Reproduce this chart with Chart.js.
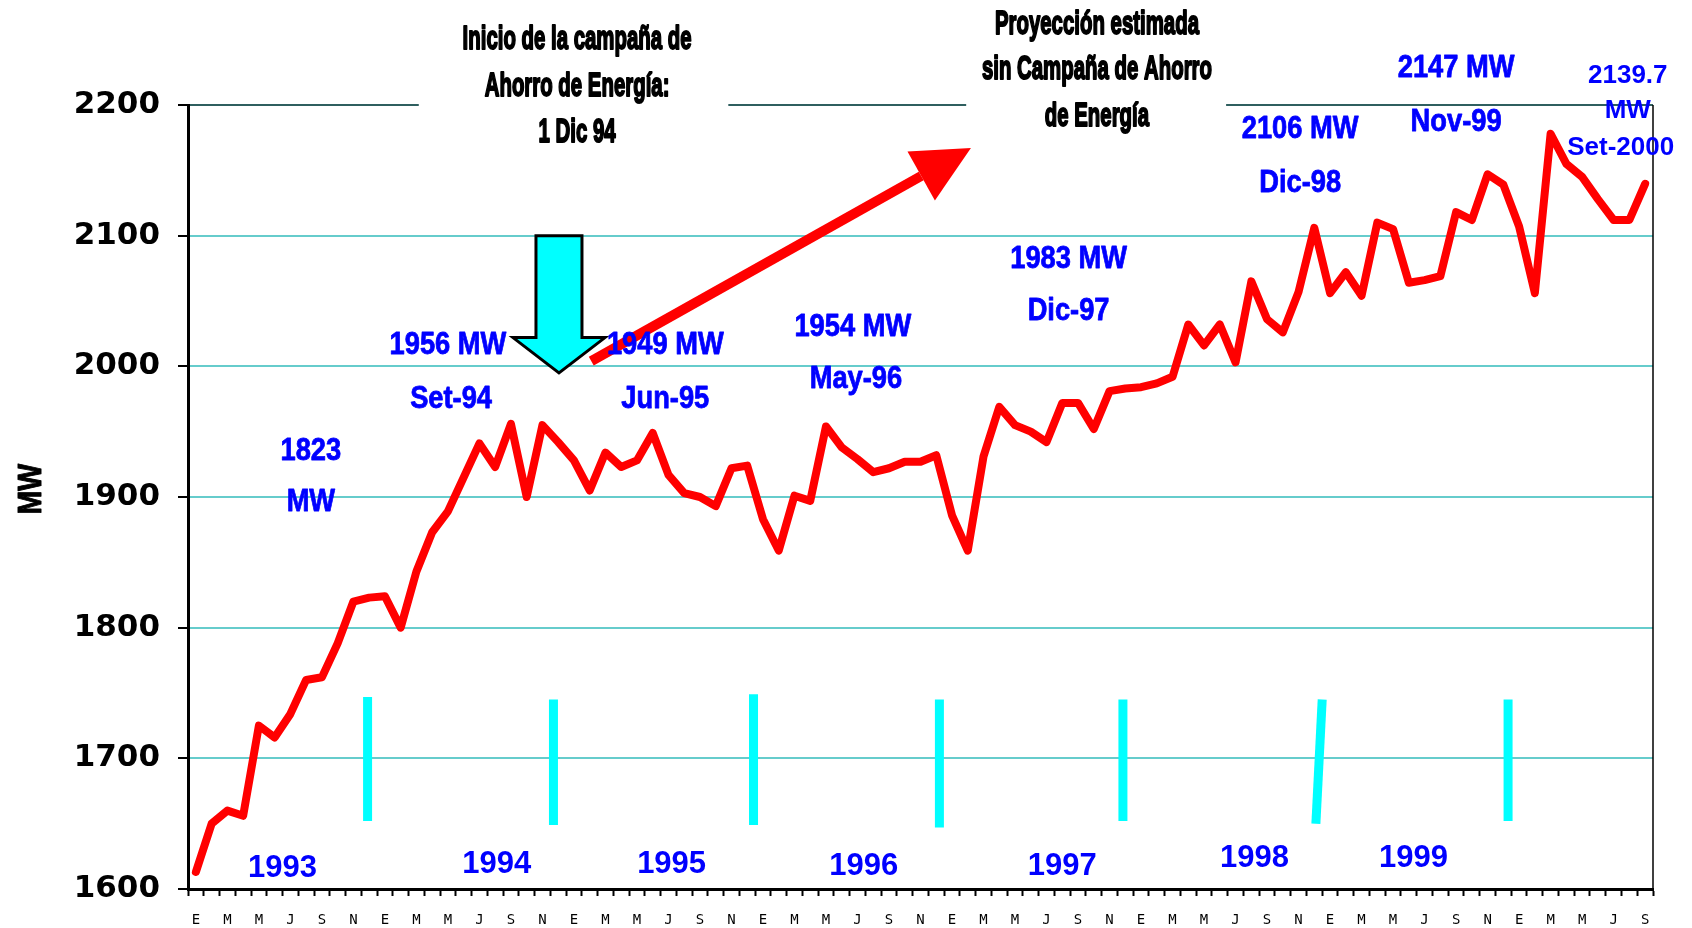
<!DOCTYPE html>
<html>
<head>
<meta charset="utf-8">
<script src="https://cdn.jsdelivr.net/npm/chart.js@4.4.0/dist/chart.umd.min.js"></script>
<style>
html,body{margin:0;padding:0;background:#fff;}
</style>
</head>
<body>
<canvas id="myChart" width="1692" height="928"></canvas>
<script>
// meses (iniciales) y demanda maxima mensual en MW
const meses=['E','F','M','A','M','J','J','A','S','O','N','D'];
const anios=[1993,1994,1995,1996,1997,1998,1999,2000];
const demanda1993=[1613,1650,1660,1656,1725,1716,1734,1760,1762,1788,1820,1823];
const demanda1994=[1824,1800,1843,1873,1889,1915,1941,1923,1956,1900,1955,1942];
const demanda1995=[1928,1905,1934,1923,1928,1949,1917,1903,1900,1893,1922,1924];
const demanda1996=[1883,1859,1901,1897,1954,1938,1929,1919,1922,1927,1927,1932];
const demanda1997=[1886,1859,1931,1969,1955,1950,1942,1972,1972,1952,1981,1983];
const demanda1998=[1984,1987,1992,2032,2016,2032,2003,2065,2036,2026,2057,2106];
const demanda1999=[2056,2072,2054,2110,2105,2064,2066,2069,2118,2112,2147,2139];
const demanda2000=[2107,2056,2178,2155,2145,2128,2112,2112,2139.7];
const yTicks=[1600,1700,1800,1900,2000,2100,2200];

const porAnio=[demanda1993,demanda1994,demanda1995,demanda1996,demanda1997,demanda1998,demanda1999,demanda2000];
let etiquetas=[],demanda=[];
porAnio.forEach(arr=>{
    arr.forEach((v,m)=>{ etiquetas.push(meses[m]); demanda.push(v); });
});

// textos sobre el grafico: [texto, indice de mes, MW]
const notasAzules=[
    ['1823',7.3,1937],['MW',7.3,1898],
    ['1956 MW',16,2018],['Set-94',16.2,1977],
    ['1949 MW',29.8,2018],['Jun-95',29.8,1977],
    ['1954 MW',41.7,2032],['May-96',41.9,1992],
    ['1983 MW',55.4,2084],['Dic-97',55.4,2044],
    ['2106 MW',70.1,2183],['Dic-98',70.1,2142],
    ['2147 MW',80,2230],['Nov-99',80,2189]
];
const notaFinal=[['2139.7',90.9,2224],['MW',90.9,2197],['Set-2000',90.45,2169]];
const notaAnios=[[5.5,1618],[19.1,1621],[30.2,1621],[42.4,1619],[55,1619],[67.2,1625],[77.3,1625]];
const titulos=[
    ['Inicio de la campaña de',24.2,2252],['Ahorro de Energía:',24.2,2216],['1 Dic 94',24.2,2181],
    ['Proyección estimada',57.2,2264],['sin Campaña de Ahorro',57.2,2229],['de Energía',57.2,2193]
];
const barrasCian=[[10.9,1747,10.9,1652],[22.7,1745,22.7,1649],[35.4,1749,35.4,1649],[47.2,1745,47.2,1647],[58.85,1745,58.85,1652],[71.5,1745,71.1,1650],[83.3,1745,83.3,1652]];
const huecosTitulo=[[14.15,33.8],[48.9,65.4]];

function texto(ctx,str,x,y,size,color,sx,grosor){
    ctx.save();
    ctx.font=`bold ${size}px "Liberation Sans", Arial, sans-serif`;
    ctx.fillStyle=color;
    ctx.textAlign='center';
    ctx.textBaseline='alphabetic';
    ctx.translate(x,y+0.36*size);
    ctx.scale(sx,1);
    ctx.fillText(str,0,0);
    if(grosor){ctx.strokeStyle=color;ctx.lineWidth=grosor;ctx.lineJoin='round';ctx.strokeText(str,0,0);}
    ctx.restore();
}

const decoraciones={
    id:'decoraciones',
    afterDraw(chart){
        const ctx=chart.ctx, xs=chart.scales.x, ys=chart.scales.y, area=chart.chartArea;
        const px=i=>xs.getPixelForValue(i), py=v=>ys.getPixelForValue(v);

        // fondo blanco de los cuadros de titulo sobre la linea de 2200
        ctx.save();
        ctx.fillStyle='#fff';
        huecosTitulo.forEach(h=>ctx.fillRect(px(h[0]),area.top-4,px(h[1])-px(h[0]),8));
        // borde derecho
        ctx.strokeStyle='#000';ctx.lineWidth=1.5;
        ctx.beginPath();ctx.moveTo(area.right,area.top);ctx.lineTo(area.right,area.bottom);ctx.stroke();
        // separadores cian
        ctx.strokeStyle='#00ffff';ctx.lineWidth=9;ctx.lineCap='butt';
        barrasCian.forEach(b=>{
            ctx.beginPath();ctx.moveTo(px(b[0]),py(b[1]));ctx.lineTo(px(b[2]),py(b[3]));ctx.stroke();
        });
        // flecha cian hacia abajo (1 Dic 94)
        const cx=px(23.05), t=py(2100), s=py(2022), p=py(1995);
        ctx.beginPath();
        ctx.moveTo(cx-23,t);ctx.lineTo(cx+23,t);ctx.lineTo(cx+23,s);ctx.lineTo(cx+46,s);
        ctx.lineTo(cx,p);ctx.lineTo(cx-46,s);ctx.lineTo(cx-23,s);ctx.closePath();
        ctx.fillStyle='#00ffff';ctx.fill();
        ctx.strokeStyle='#000';ctx.lineWidth=3;ctx.lineJoin='miter';ctx.stroke();
        // flecha roja de proyeccion
        const x0=px(25.1),y0=py(2004),x1=px(49.2),y1=py(2167);
        const ang=Math.atan2(y1-y0,x1-x0), hl=57, hw=28;
        const bx=x1-hl*Math.cos(ang), by=y1-hl*Math.sin(ang);
        ctx.strokeStyle='#ff0000';ctx.lineWidth=10;
        ctx.beginPath();ctx.moveTo(x0,y0);ctx.lineTo(bx,by);ctx.stroke();
        ctx.fillStyle='#ff0000';
        ctx.beginPath();ctx.moveTo(x1,y1);
        ctx.lineTo(bx+hw*Math.sin(ang),by-hw*Math.cos(ang));
        ctx.lineTo(bx-hw*Math.sin(ang),by+hw*Math.cos(ang));
        ctx.closePath();ctx.fill();
        ctx.restore();

        notasAzules.forEach(n=>texto(ctx,n[0],px(n[1]),py(n[2]),31,'#0000ff',0.88,0.8));
        notaFinal.forEach(n=>texto(ctx,n[0],px(n[1]),py(n[2]),26,'#0000ff',1));
        notaAnios.forEach((n,k)=>texto(ctx,String(anios[k]),px(n[0]),py(n[1]),31,'#0000ff',1));
        titulos.forEach(n=>texto(ctx,n[0],px(n[1]),py(n[2]),34,'#000',0.6,2));

        // titulo del eje Y
        ctx.save();
        ctx.translate(29,py(1906));
        ctx.rotate(-Math.PI/2);
        texto(ctx,'MW',0,0,34,'#000',0.84,1);
        ctx.restore();
    }
};

const ctx=document.getElementById('myChart');
const myChart=new Chart(ctx,{
    type:'line',
    data:{
        labels:etiquetas,
        datasets:[{
            label:'MW',
            data:demanda,
            borderColor:'#ff0000',
            borderWidth:8,
            pointRadius:0,
            tension:0,
            borderJoinStyle:'round',
            borderCapStyle:'round',
            fill:false
        }]
    },
    options:{
        responsive:false,
        animation:false,
        devicePixelRatio:1,
        layout:{padding:{top:105,right:39,left:0,bottom:0}},
        plugins:{legend:{display:false},tooltip:{enabled:false}},
        scales:{
            x:{
                type:'category',
                offset:true,
                grid:{offset:true,drawOnChartArea:false,drawTicks:true,tickLength:7,tickColor:'#000',tickWidth:2},
                border:{color:'#000',width:3},
                ticks:{
                    autoSkip:false,maxRotation:0,minRotation:0,padding:16,color:'#000',
                    font:{family:'"DejaVu Sans Mono"',size:14},
                    callback:function(v,i){return i%2===0?this.getLabelForValue(v):'';}
                },
                afterFit:s=>{s.height=39;}
            },
            y:{
                min:yTicks[0],max:yTicks[yTicks.length-1],
                afterBuildTicks:s=>{s.ticks=yTicks.map(v=>({value:v}));},
                grid:{
                    color:c=>c.tick.value===2200?'#2f5f5f':(c.tick.value===1600?'rgba(0,0,0,0)':'#66cccc'),
                    lineWidth:2,tickLength:10,tickColor:'#000',tickWidth:2
                },
                border:{color:'#000',width:3},
                ticks:{color:'#000',padding:18,font:{family:'"DejaVu Sans"',size:31,weight:'bold'},callback:v=>String(v)},
                afterFit:s=>{s.width=188;}
            }
        }
    },
    plugins:[decoraciones]
});
</script>
</body>
</html>
